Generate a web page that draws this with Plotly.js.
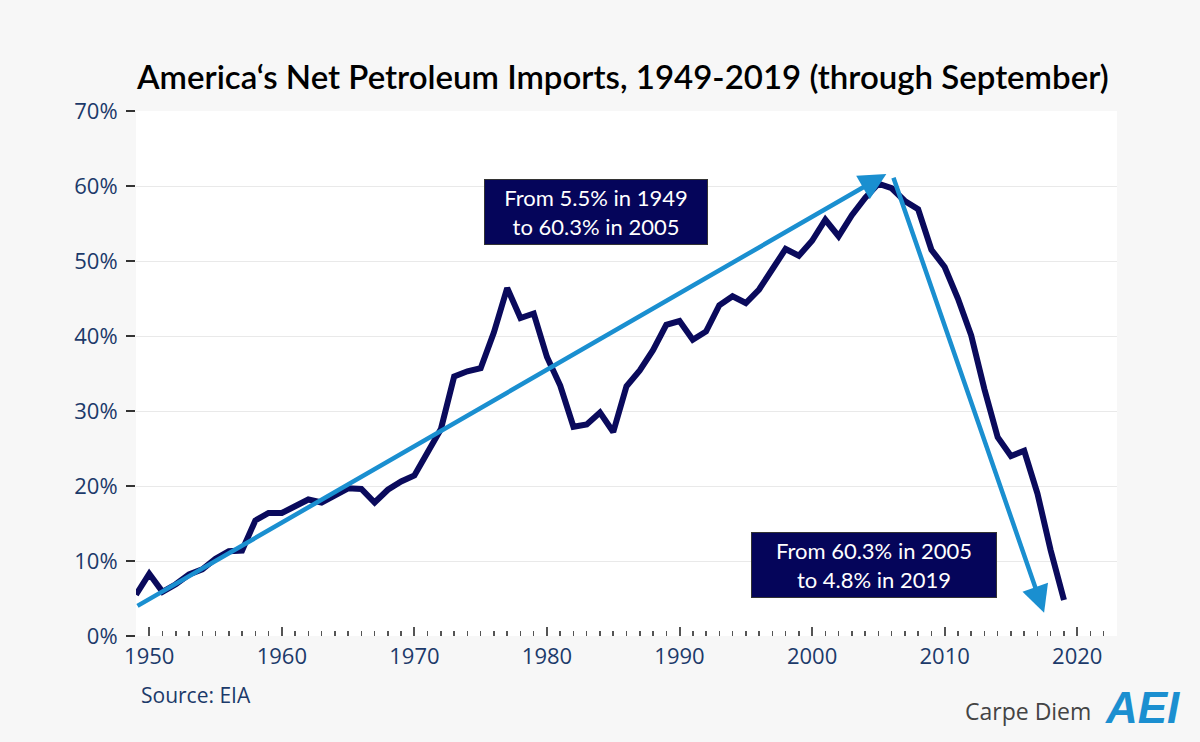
<!DOCTYPE html>
<html>
<head>
<meta charset="utf-8">
<script src="https://cdn.plot.ly/plotly-3.0.1.min.js"></script>
<style>html,body{margin:0;padding:0;background:#f7f7f7;}#chart{width:1200px;height:742px;}</style>
</head>
<body>
<div id="chart"></div>
<script>
const years = [1949,1950,1951,1952,1953,1954,1955,1956,1957,1958,1959,
  1960,1961,1962,1963,1964,1965,1966,1967,1968,1969,
  1970,1971,1972,1973,1974,1975,1976,1977,1978,1979,
  1980,1981,1982,1983,1984,1985,1986,1987,1988,1989,
  1990,1991,1992,1993,1994,1995,1996,1997,1998,1999,
  2000,2001,2002,2003,2004,2005,2006,2007,2008,2009,
  2010,2011,2012,2013,2014,2015,2016,2017,2018,2019];
const netImportsPct = [5.5,8.3,5.9,6.9,8.2,8.9,10.3,11.3,11.4,15.4,16.4,
  16.4,17.3,18.2,17.8,18.7,19.7,19.6,17.8,19.5,20.6,
  21.4,24.4,27.6,34.6,35.3,35.7,40.5,46.4,42.4,43.0,
  37.2,33.4,27.9,28.2,29.8,27.2,33.3,35.4,38.1,41.5,
  42.0,39.5,40.6,44.1,45.3,44.4,46.2,48.9,51.6,50.7,
  52.7,55.5,53.3,56.1,58.4,60.3,59.7,58.0,56.9,51.5,
  49.2,45.0,40.1,32.9,26.5,24.0,24.7,19.0,11.4,4.8];
const yTickVals = [0,10,20,30,40,50,60,70];
const yTickText = ['0%','10%','20%','30%','40%','50%','60%','70%'];
const xTickVals = [1950,1960,1970,1980,1990,2000,2010,2020];
const titleText = "America‘s Net Petroleum Imports, 1949-2019 (through September)";
const noteUp = "From 5.5% in 1949<br>to 60.3% in 2005";
const noteDown = "From 60.3% in 2005<br>to 4.8% in 2019";

const navy = '#0a0a5c';
const arrowBlue = '#1a8fd0';
const tickBlue = '#1c3a6a';

const trace = {
  x: years, y: netImportsPct, type: 'scatter', mode: 'lines',
  line: {color: navy, width: 6, shape: 'linear'},
  hoverinfo: 'x+y'
};

const layout = {
  width: 1200, height: 742,
  paper_bgcolor: '#f7f7f7', plot_bgcolor: '#ffffff',
  margin: {l: 136, r: 83, t: 111, b: 106},
  showlegend: false,
  title: {text: titleText, x: 0.519, xanchor: 'center', y: 0.895, yanchor: 'middle',
    font: {family: 'Lato, sans-serif', size: 33, color: '#000', weight: 600}},
  xaxis: {
    range: [1949, 2023], tickvals: xTickVals, ticks: 'inside', ticklen: 9, tickwidth: 2,
    tickcolor: '#555', showgrid: false, zeroline: false, showline: false,
    minor: {dtick: 1, tick0: 1949, ticks: 'inside', ticklen: 5, tickwidth: 1.5, tickcolor: '#555', showgrid: false},
    tickfont: {family: 'Open Sans, sans-serif', size: 22, color: tickBlue},
    ticklabelstandoff: 5
  },
  yaxis: {
    range: [0, 70], tickvals: yTickVals, ticktext: yTickText, ticks: 'outside', ticklen: 9,
    tickwidth: 1.5, tickcolor: '#333', showgrid: true, gridcolor: '#e9e9e9', gridwidth: 1,
    zeroline: false, showline: false,
    tickfont: {family: 'Open Sans, sans-serif', size: 22, color: tickBlue},
    ticklabelstandoff: 4
  },
  annotations: [
    {x: 2005.6, y: 61.6, ax: 1949.0, ay: 3.9, xref: 'x', yref: 'y', axref: 'x', ayref: 'y',
     text: '', showarrow: true, arrowhead: 2, arrowsize: 1.2, arrowwidth: 4.5, arrowcolor: arrowBlue, standoff: 0},
    {x: 2017.5, y: 3.1, ax: 2006.1, ay: 61.3, xref: 'x', yref: 'y', axref: 'x', ayref: 'y',
     text: '', showarrow: true, arrowhead: 2, arrowsize: 1.2, arrowwidth: 4.5, arrowcolor: arrowBlue, standoff: 0},
    {x: 1983.7, y: 56.5, xref: 'x', yref: 'y', text: noteUp, showarrow: false,
     bgcolor: '#05055a', bordercolor: '#333', borderwidth: 1, width: 216, height: 58, borderpad: 3,
     font: {family: 'Lato, sans-serif', size: 22, color: '#fff'}, align: 'center'},
    {x: 2004.7, y: 9.5, xref: 'x', yref: 'y', text: noteDown, showarrow: false,
     bgcolor: '#05055a', bordercolor: '#333', borderwidth: 1, width: 238, height: 58, borderpad: 3,
     font: {family: 'Lato, sans-serif', size: 22, color: '#fff'}, align: 'center'},
    {x: 139, y: 695, xref: 'paper', yref: 'paper', text: 'Source: EIA', showarrow: false,
     xanchor: 'left', yanchor: 'middle',
     font: {family: 'Open Sans, sans-serif', size: 21, color: tickBlue}},
    {x: 1093, y: 711, text: 'Carpe Diem', showarrow: false, xanchor: 'right', yanchor: 'middle',
     font: {family: 'Open Sans, sans-serif', size: 23, color: '#444'}},
    {x: 1142, y: 707, text: '<b><i>AEI</i></b>', showarrow: false, xanchor: 'center', yanchor: 'middle',
     font: {family: 'Liberation Sans, sans-serif', size: 44, color: '#1b8fd0'}}
  ]
};

const plotW = 1200 - 136 - 83, plotH = 742 - 111 - 106;
layout.annotations.forEach(a => {
  if (a.xref === undefined) { a.xref = 'paper'; a.yref = 'paper'; }
  if (a.xref === 'paper' && a.x > 2) {
    a.x = (a.x - 136) / plotW;
    a.y = (742 - 106 - a.y) / plotH;
  }
});

Plotly.newPlot('chart', [trace], layout, {displayModeBar: false, staticPlot: true});
</script>
</body>
</html>
